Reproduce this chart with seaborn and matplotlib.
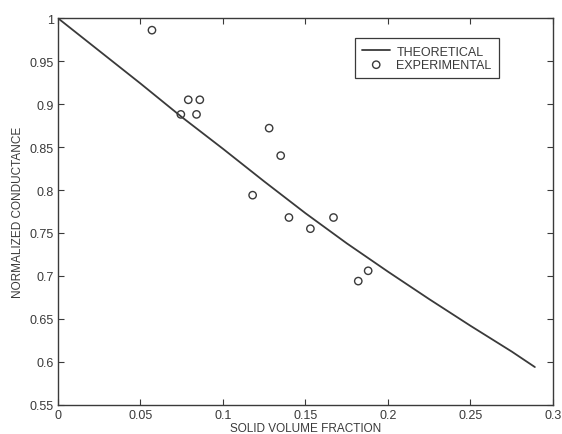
import numpy as np
import pandas as pd
import matplotlib
matplotlib.use("Agg")
import matplotlib.pyplot as plt
import seaborn as sns

# theoretical curve
theo_x = [0.0, 0.025, 0.05, 0.075, 0.1, 0.125, 0.15, 0.175, 0.2, 0.225, 0.25, 0.275, 0.289]
theo_y = [1.000, 0.962, 0.924, 0.885, 0.848, 0.810, 0.773, 0.738, 0.705, 0.673, 0.642, 0.612, 0.594]

# experimental points
exp_x = [0.057, 0.0745, 0.079, 0.084, 0.086, 0.118, 0.128, 0.135, 0.140, 0.153, 0.167, 0.182, 0.188]
exp_y = [0.986, 0.888, 0.905, 0.888, 0.905, 0.794, 0.872, 0.840, 0.768, 0.755, 0.768, 0.694, 0.706]

x_ticks = [0, 0.05, 0.1, 0.15, 0.2, 0.25, 0.3]
x_labels = ["0", "0.05", "0.1", "0.15", "0.2", "0.25", "0.3"]
y_ticks = [0.55, 0.6, 0.65, 0.7, 0.75, 0.8, 0.85, 0.9, 0.95, 1]
y_labels = ["0.55", "0.6", "0.65", "0.7", "0.75", "0.8", "0.85", "0.9", "0.95", "1"]

theo = pd.DataFrame({"x": theo_x, "y": theo_y})
expt = pd.DataFrame({"x": exp_x, "y": exp_y})

sns.set_style("ticks")
plt.rcParams["font.family"] = ["Liberation Sans", "DejaVu Sans"]
ink = "#3a3a3a"

fig = plt.figure(figsize=(5.62, 4.35), dpi=100)
ax = fig.add_axes([0.103, 0.067, 0.881, 0.889])

sns.lineplot(data=theo, x="x", y="y", ax=ax, color=ink, linewidth=1.3,
             label="THEORETICAL")
sns.scatterplot(data=expt, x="x", y="y", ax=ax, marker="o", s=28,
                facecolors="none", edgecolor=ink, linewidth=1.0,
                label="EXPERIMENTAL")

ax.set_xlim(0, 0.3)
ax.set_ylim(0.55, 1)
ax.set_xticks(x_ticks)
ax.set_xticklabels(x_labels)
ax.set_yticks(y_ticks)
ax.set_yticklabels(y_labels)
ax.tick_params(direction="in", top=True, right=True, length=4, width=0.8,
               colors=ink, labelsize=9, pad=3)
for s in ax.spines.values():
    s.set_visible(True)
    s.set_color(ink)
    s.set_linewidth(1.0)

ax.set_xlabel("SOLID VOLUME FRACTION", fontsize=8.5, color=ink, labelpad=1)
ax.set_ylabel("NORMALIZED CONDUCTANCE", fontsize=8.5, color=ink, labelpad=4)

leg = ax.legend(loc="upper left", bbox_to_anchor=(0.60, 0.948), fancybox=False,
                framealpha=1, edgecolor=ink, fontsize=9, handlelength=2.2,
                handletextpad=0.5, borderpad=0.6, labelspacing=0.1,
                borderaxespad=0)
leg.get_frame().set_linewidth(0.9)
for t in leg.get_texts():
    t.set_color(ink)

fig.savefig("out.png", dpi=100)
